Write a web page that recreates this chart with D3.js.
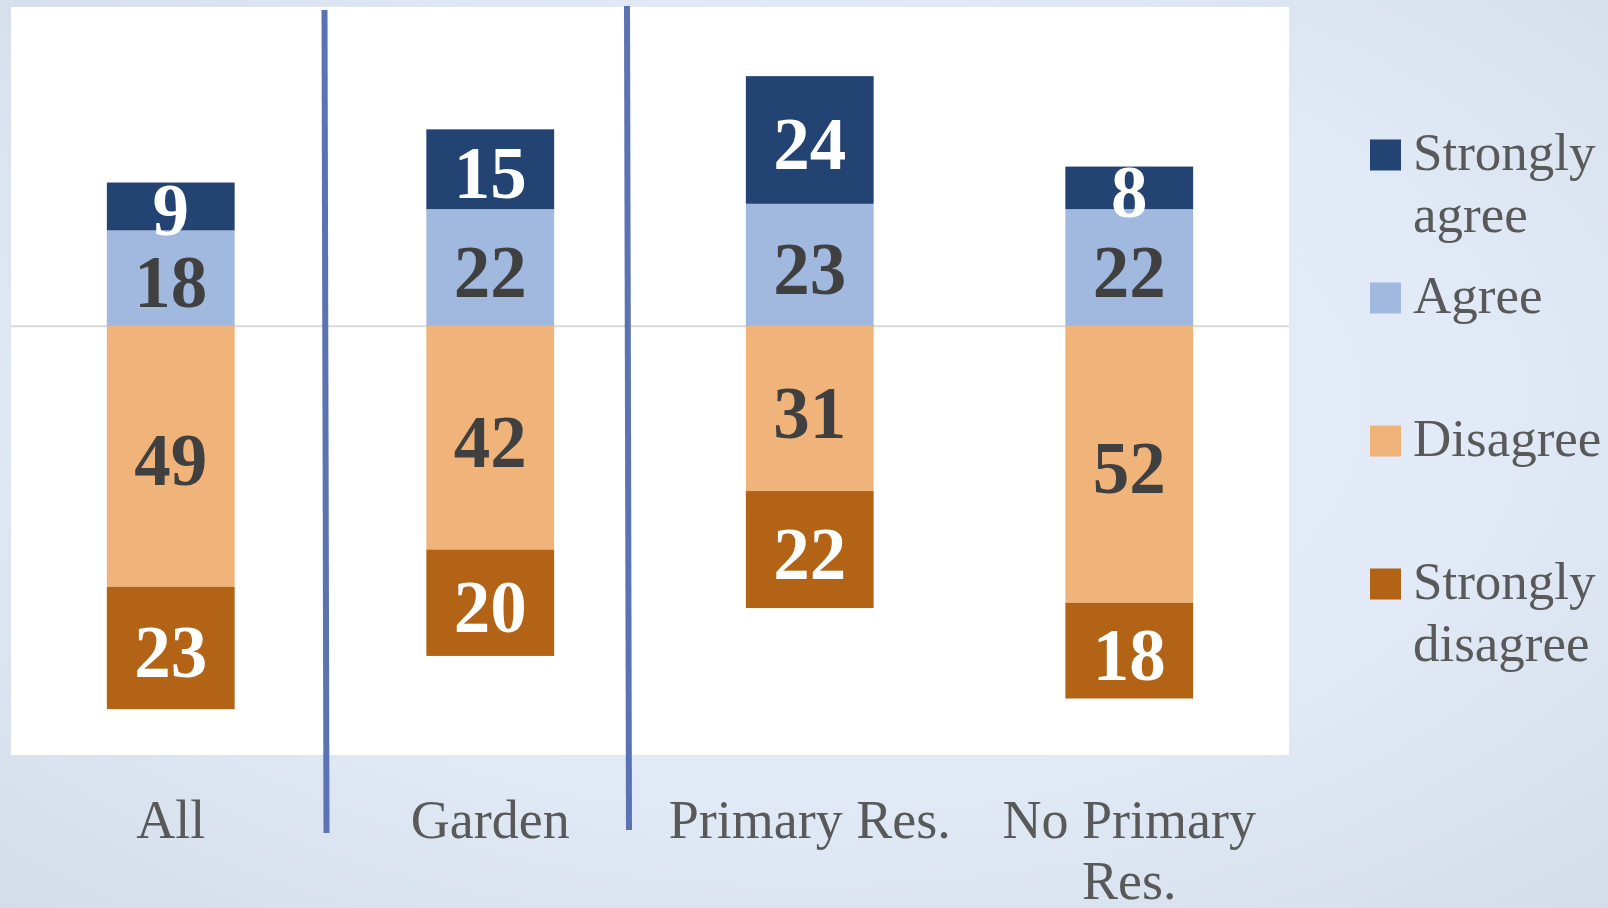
<!DOCTYPE html>
<html>
<head>
<meta charset="utf-8">
<script src="https://cdn.jsdelivr.net/npm/d3@7"></script>
<style>
  body { margin: 0; padding: 0; overflow: hidden; }
  #chart-area { width: 1608px; height: 908px; }
</style>
</head>
<body>
<div id="chart-area"></div>
<script>
var categories = ["All", "Garden", "Primary Res.", "No Primary Res."];
var seriesNames = ["Strongly agree", "Agree", "Disagree", "Strongly disagree"];
var stronglyAgree = [9, 15, 24, 8];
var agree = [18, 22, 23, 22];
var disagree = [49, 42, 31, 52];
var stronglyDisagree = [23, 20, 22, 18];

var width = 1608;
var height = 908;
var panel = {left: 11, top: 7, right: 1289, bottom: 755};

var colors = {
  "Strongly agree": "#234372",
  "Agree": "#a1b9df",
  "Disagree": "#f0b47a",
  "Strongly disagree": "#b26316"
};
var labelColors = {
  "Strongly agree": "#ffffff",
  "Agree": "#404040",
  "Disagree": "#404040",
  "Strongly disagree": "#ffffff"
};

var svg = d3.select("#chart-area").append("svg")
    .attr("width", width)
    .attr("height", height)
    .attr("viewBox", "0 0 " + width + " " + height);

// slide background
var defs = svg.append("defs");
var grad = defs.append("radialGradient")
    .attr("id", "bg")
    .attr("cx", "50%").attr("cy", "45%").attr("r", "75%");
grad.append("stop").attr("offset", "0%").attr("stop-color", "#e3ecf8");
grad.append("stop").attr("offset", "55%").attr("stop-color", "#e1eaf6");
grad.append("stop").attr("offset", "100%").attr("stop-color", "#d4dcea");

svg.append("rect")
    .attr("width", width)
    .attr("height", height)
    .attr("fill", "url(#bg)");

svg.append("rect")
    .attr("x", panel.left)
    .attr("y", panel.top)
    .attr("width", panel.right - panel.left)
    .attr("height", panel.bottom - panel.top)
    .attr("fill", "#ffffff");

var x = d3.scaleBand()
    .domain(categories)
    .range([panel.left, panel.right])
    .paddingInner(0.6)
    .paddingOuter(0.3);

var y = d3.scaleLinear()
    .domain([-81, 60])
    .range([757, 7]);

// rows for the diverging stack
var rows = categories.map(function(c, i) {
  return {
    category: c,
    "Agree": agree[i],
    "Strongly agree": stronglyAgree[i],
    "Disagree": -disagree[i],
    "Strongly disagree": -stronglyDisagree[i]
  };
});

var stack = d3.stack()
    .keys(["Agree", "Strongly agree", "Disagree", "Strongly disagree"])
    .offset(d3.stackOffsetDiverging);

var layers = stack(rows);

// zero line
svg.append("line")
    .attr("x1", panel.left)
    .attr("x2", panel.right)
    .attr("y1", y(0))
    .attr("y2", y(0))
    .attr("stroke", "#d9d9d9")
    .attr("stroke-width", 2);

var layer = svg.selectAll(".layer")
    .data(layers)
  .enter().append("g")
    .attr("class", "layer")
    .attr("fill", function(d) { return colors[d.key]; });

layer.selectAll("rect")
    .data(function(d) { return d; })
  .enter().append("rect")
    .attr("x", function(d) { return x(d.data.category); })
    .attr("y", function(d) { return y(Math.max(d[0], d[1])); })
    .attr("width", x.bandwidth())
    .attr("height", function(d) { return Math.abs(y(d[0]) - y(d[1])); });

layer.selectAll(".value")
    .data(function(d) { return d.map(function(p) { p.key = d.key; return p; }); })
  .enter().append("text")
    .attr("class", "value")
    .attr("x", function(d) { return x(d.data.category) + x.bandwidth() / 2; })
    .attr("y", function(d) { return (y(d[0]) + y(d[1])) / 2 + 29; })
    .attr("text-anchor", "middle")
    .attr("font-family", "'Liberation Serif', 'Times New Roman', serif")
    .attr("font-weight", "bold")
    .attr("font-size", "73px")
    .attr("fill", function(d) { return labelColors[d.key]; })
    .text(function(d) { return Math.abs(d[1] - d[0]); });

// group separators
var dividerAfter = ["All", "Garden"];
var dividerShift = [-6, -23];
dividerAfter.forEach(function(c, i) {
  var mid = x(c) + x.bandwidth() + x.step() * x.paddingInner() / 2 + dividerShift[i];
  svg.append("line")
      .attr("x1", mid)
      .attr("x2", mid + 2)
      .attr("y1", panel.top + (i == 0 ? 3 : -1))
      .attr("y2", 833 - i * 3)
      .attr("stroke", "#5b72b3")
      .attr("stroke-width", 6);
});

// category labels
var catLabels = svg.selectAll(".cat")
    .data(categories)
  .enter().append("text")
    .attr("class", "cat")
    .attr("x", function(d) { return x(d) + x.bandwidth() / 2; })
    .attr("y", 838)
    .attr("text-anchor", "middle")
    .attr("font-family", "'Liberation Serif', 'Times New Roman', serif")
    .attr("font-size", "54px")
    .attr("fill", "#595959")
    .text(function(d) { return d; })
    .call(wrap, x.step());

function wrap(text, maxWidth) {
  text.each(function() {
    var t = d3.select(this);
    var words = t.text().split(/\s+/);
    var cx = t.attr("x");
    var line = [];
    t.text(null);
    var tspan = t.append("tspan").attr("x", cx).attr("dy", 0);
    words.forEach(function(w) {
      line.push(w);
      tspan.text(line.join(" "));
      if (tspan.node().getComputedTextLength() > maxWidth && line.length > 1) {
        line.pop();
        tspan.text(line.join(" "));
        line = [w];
        tspan = t.append("tspan").attr("x", cx).attr("dy", 61).text(w);
      }
    });
  });
}

// legend
var legend = svg.append("g")
    .attr("class", "legend")
    .attr("transform", "translate(1370,139.5)");

seriesNames.forEach(function(name, i) {
  var row = legend.append("g")
      .attr("transform", "translate(0," + (i * 143) + ")");
  row.append("rect")
      .attr("width", 31)
      .attr("height", 31)
      .attr("fill", colors[name]);
  var words = name.split(" ");
  var t = row.append("text")
      .attr("x", 43)
      .attr("y", 30)
      .attr("font-family", "'Liberation Serif', 'Times New Roman', serif")
      .attr("font-size", "53px")
      .attr("fill", "#595959");
  words.forEach(function(w, j) {
    t.append("tspan")
        .attr("x", 43)
        .attr("dy", j == 0 ? 0 : 62)
        .text(w);
  });
});
</script>
</body>
</html>
